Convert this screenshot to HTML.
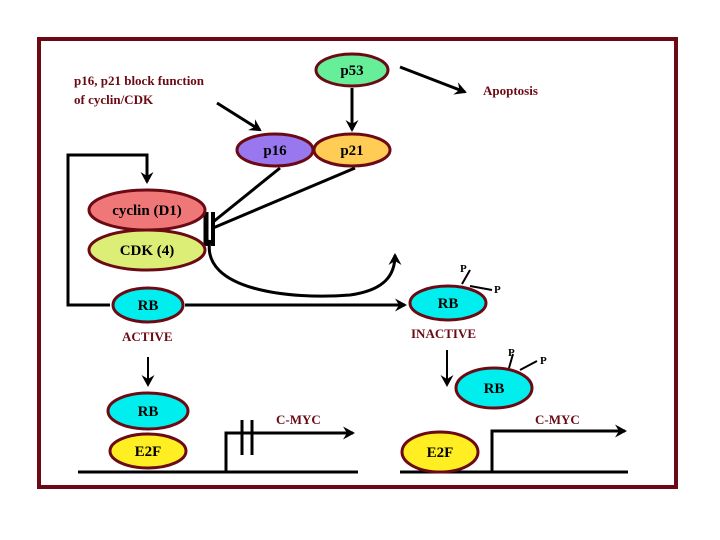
<!DOCTYPE html>
<html><head><style>body{margin:0;background:#fff}svg{display:block}</style></head><body>
<svg width="720" height="540" viewBox="0 0 720 540" font-family="Liberation Serif, serif" font-weight="bold">
<defs><marker id="a" markerWidth="13" markerHeight="13" refX="10" refY="6.5" orient="auto" markerUnits="userSpaceOnUse"><path d="M0,0 L12,6.5 L0,13 L4,6.5Z" fill="#000"/></marker></defs>
<rect x="39" y="39" width="637" height="448" fill="#fff" stroke="#6b0a14" stroke-width="4"/>
<g stroke="#000" stroke-width="3" fill="none">
<line x1="217" y1="103" x2="260" y2="130" marker-end="url(#a)"/>
<line x1="352" y1="88" x2="352" y2="130" marker-end="url(#a)"/>
<line x1="400" y1="67" x2="465" y2="92" marker-end="url(#a)"/>
<line x1="280" y1="168" x2="213" y2="222"/>
<line x1="355" y1="168" x2="213" y2="228"/>
<path d="M110,305 H68 V155 H147 V182" marker-end="url(#a)"/>
<path d="M210,240 C200,290 290,300 350,295 C385,290 395,275 395,255" marker-end="url(#a)"/>
<line x1="185" y1="305" x2="405" y2="305" marker-end="url(#a)"/>
<line x1="148" y1="357" x2="148" y2="385" marker-end="url(#a)" stroke-width="2"/>
<line x1="447" y1="350" x2="447" y2="385" marker-end="url(#a)" stroke-width="2"/>
<path d="M78,472 H358 M226,472 V433 H352" />
<path d="M400,472 H628 M492,472 V431 H620"/>
<line x1="338" y1="433" x2="353" y2="433" marker-end="url(#a)"/>
<line x1="610" y1="431" x2="625" y2="431" marker-end="url(#a)"/>
<line x1="462" y1="284" x2="470" y2="270" stroke-width="2"/>
<line x1="470" y1="286" x2="492" y2="290" stroke-width="2"/>
<line x1="509" y1="368" x2="513" y2="354" stroke-width="2"/>
<line x1="520" y1="370" x2="537" y2="361" stroke-width="2"/>
</g>
<g stroke="#000" stroke-width="5"><line x1="206" y1="212" x2="206" y2="246"/><line x1="213" y1="212" x2="213" y2="246" stroke-width="4"/>
<line x1="242" y1="420" x2="242" y2="455" stroke-width="3"/><line x1="252" y1="420" x2="252" y2="455" stroke-width="3"/></g>
<g stroke="#6b0a14" stroke-width="3">
<ellipse cx="352" cy="70" rx="36" ry="16" fill="#66ee99"/>
<ellipse cx="275" cy="150" rx="38" ry="16" fill="#9977ee"/>
<ellipse cx="352" cy="150" rx="38" ry="16" fill="#ffcc55"/>
<ellipse cx="147" cy="210" rx="58" ry="20" fill="#f07777"/>
<ellipse cx="147" cy="250" rx="58" ry="20" fill="#ddee77"/>
<ellipse cx="148" cy="305" rx="35" ry="17" fill="#00eeee"/>
<ellipse cx="148" cy="411" rx="40" ry="18" fill="#00eeee"/>
<ellipse cx="148" cy="451" rx="38" ry="17" fill="#ffee22"/>
<ellipse cx="448" cy="303" rx="38" ry="17" fill="#00eeee"/>
<ellipse cx="494" cy="388" rx="38" ry="20" fill="#00eeee"/>
<ellipse cx="440" cy="452" rx="38" ry="20" fill="#ffee22"/>
</g>
<g font-size="15" text-anchor="middle" fill="#000">
<text x="352" y="75">p53</text><text x="275" y="155">p16</text><text x="352" y="155">p21</text>
<text x="147" y="215">cyclin (D1)</text><text x="147" y="255">CDK (4)</text>
<text x="148" y="310">RB</text><text x="148" y="416">RB</text><text x="148" y="456">E2F</text>
<text x="448" y="308">RB</text><text x="494" y="393">RB</text><text x="440" y="457">E2F</text>
</g>
<g font-size="13" fill="#6b0a14">
<text x="74" y="85">p16, p21 block function</text><text x="74" y="104">of cyclin/CDK</text>
<text x="483" y="95">Apoptosis</text>
<text x="122" y="341">ACTIVE</text><text x="411" y="338">INACTIVE</text>
<text x="276" y="424">C-MYC</text><text x="535" y="424">C-MYC</text>
</g>
<g font-size="11" fill="#000"><text x="460" y="272">P</text><text x="494" y="293">P</text><text x="508" y="356">P</text><text x="540" y="364">P</text></g>
</svg>
</body></html>
